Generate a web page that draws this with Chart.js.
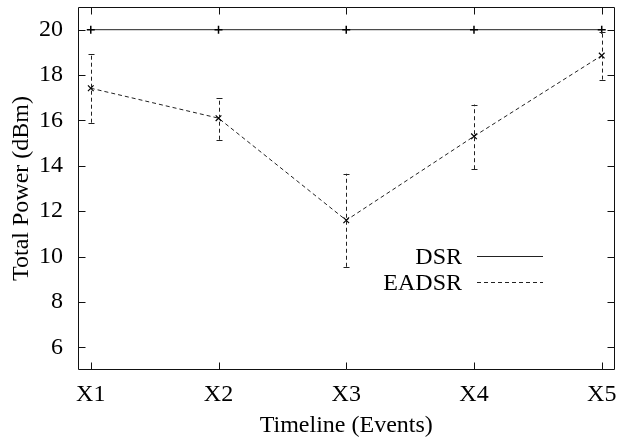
<!DOCTYPE html>
<html>
<head>
<meta charset="utf-8">
<script src="https://cdn.jsdelivr.net/npm/chart.js@4"></script>
<style>
body{margin:0;background:#fff;}
canvas{display:block;}
</style>
</head>
<body>
<canvas id="chart" width="620" height="446"></canvas>
<script>
// DATA
const xLabels=["X1","X2","X3","X4","X5"];
const xPos=[1,2,3,4,5];
const dsrValues=[20,20,20,20,20];
const eadsrValues=[17.42,16.1,11.6,15.3,18.86];
const eadsrLow=[15.9,15.15,9.55,13.85,17.8];
const eadsrHigh=[18.95,17.0,13.65,16.7,19.9];
const yTicks=[6,8,10,12,14,16,18,20];

Chart.defaults.font.family="'Liberation Serif', 'Times New Roman', serif";
Chart.defaults.font.size=24;
Chart.defaults.color="#000";

const lineColor="#222";

// error bars, inner ticks, frame, legend
const gnuplotLook={
    id:"gnuplotLook",
    afterDraw(c){
        const ctx=c.ctx;
        const xs=c.scales.x, ys=c.scales.y;
        const L=Math.round(c.chartArea.left)+0.5;
        const T=Math.round(c.chartArea.top)+0.5;
        const R=Math.round(c.chartArea.right)-0.5;
        const B=Math.round(c.chartArea.bottom)-0.5;

        ctx.save();
        ctx.lineWidth=1;

        // error bars
        ctx.strokeStyle=lineColor;
        ctx.setLineDash([4,3]);
        xPos.forEach((v,i)=>{
            const px=Math.round(xs.getPixelForValue(v))+0.5;
            ctx.beginPath();
            ctx.moveTo(px,ys.getPixelForValue(eadsrLow[i]));
            ctx.lineTo(px,ys.getPixelForValue(eadsrHigh[i]));
            ctx.stroke();
        });
        ctx.setLineDash([]);
        xPos.forEach((v,i)=>{
            const px=Math.round(xs.getPixelForValue(v))+0.5;
            [eadsrLow[i],eadsrHigh[i]].forEach(e=>{
                const py=Math.round(ys.getPixelForValue(e))+0.5;
                ctx.beginPath();
                ctx.moveTo(px-3,py);
                ctx.lineTo(px+3,py);
                ctx.stroke();
            });
        });

        // frame
        ctx.strokeStyle="#111";
        ctx.beginPath();
        ctx.moveTo(L,T);ctx.lineTo(R,T);
        ctx.lineTo(R,B);ctx.lineTo(L,B);
        ctx.closePath();
        ctx.stroke();

        // inner ticks, mirrored
        const tl=7;
        ctx.beginPath();
        yTicks.forEach(v=>{
            const py=Math.round(ys.getPixelForValue(v))+0.5;
            ctx.moveTo(L,py);ctx.lineTo(L+tl,py);
            ctx.moveTo(R,py);ctx.lineTo(R-tl,py);
        });
        xPos.forEach(v=>{
            const px=Math.round(xs.getPixelForValue(v))+0.5;
            ctx.moveTo(px,B);ctx.lineTo(px,B-tl);
            ctx.moveTo(px,T);ctx.lineTo(px,T+tl);
        });
        ctx.stroke();

        // legend
        const rows=[256,282];
        ctx.font="24px 'Liberation Serif'";
        ctx.textAlign="right";
        ctx.textBaseline="middle";
        c.data.datasets.forEach((ds,i)=>{
            const y=rows[i]+0.5;
            ctx.fillStyle="#000";
            ctx.fillText(ds.label,462,y+1);
            ctx.strokeStyle=ds.borderColor;
            ctx.setLineDash(ds.borderDash||[]);
            ctx.beginPath();
            ctx.moveTo(477,y);ctx.lineTo(543,y);
            ctx.stroke();
        });
        ctx.restore();
    }
};

new Chart(document.getElementById("chart"),{
    type:"line",
    data:{
        datasets:[
            {
                label:"DSR",
                data:xPos.map((x,i)=>({x,y:dsrValues[i]})),
                borderColor:lineColor,
                borderWidth:1,
                pointStyle:"cross",
                pointRadius:4,
                pointBorderColor:"#000",
                pointBorderWidth:1.5,
                tension:0
            },
            {
                label:"EADSR",
                data:xPos.map((x,i)=>({x,y:eadsrValues[i]})),
                borderColor:lineColor,
                borderWidth:1,
                borderDash:[4,3],
                pointStyle:"crossRot",
                pointRadius:4,
                pointBorderColor:"#000",
                pointBorderWidth:1.2,
                tension:0
            }
        ]
    },
    options:{
        responsive:false,
        animation:false,
        clip:false,
        layout:{padding:{top:7,right:1,left:0,bottom:0}},
        plugins:{legend:{display:false},tooltip:{enabled:false}},
        scales:{
            x:{
                type:"linear",
                min:0.9,
                max:5.1,
                afterBuildTicks:s=>{s.ticks=xPos.map(v=>({value:v}));},
                afterFit:s=>{s.height=76;s.paddingLeft=0;s.paddingRight=0;},
                grid:{display:false,drawTicks:false},
                border:{display:false},
                ticks:{
                    padding:10,
                    maxRotation:0,
                    callback:v=>xLabels[v-1]
                },
                title:{display:true,text:"Timeline (Events)",padding:{top:0,bottom:6}}
            },
            y:{
                min:5,
                max:21,
                afterBuildTicks:s=>{s.ticks=yTicks.map(v=>({value:v}));},
                afterFit:s=>{s.width=78;s.paddingTop=0;s.paddingBottom=0;},
                grid:{display:false,drawTicks:false},
                border:{display:false},
                ticks:{padding:15},
                title:{display:true,text:"Total Power (dBm)",padding:{top:7,bottom:0}}
            }
        }
    },
    plugins:[gnuplotLook]
});
</script>
</body>
</html>
